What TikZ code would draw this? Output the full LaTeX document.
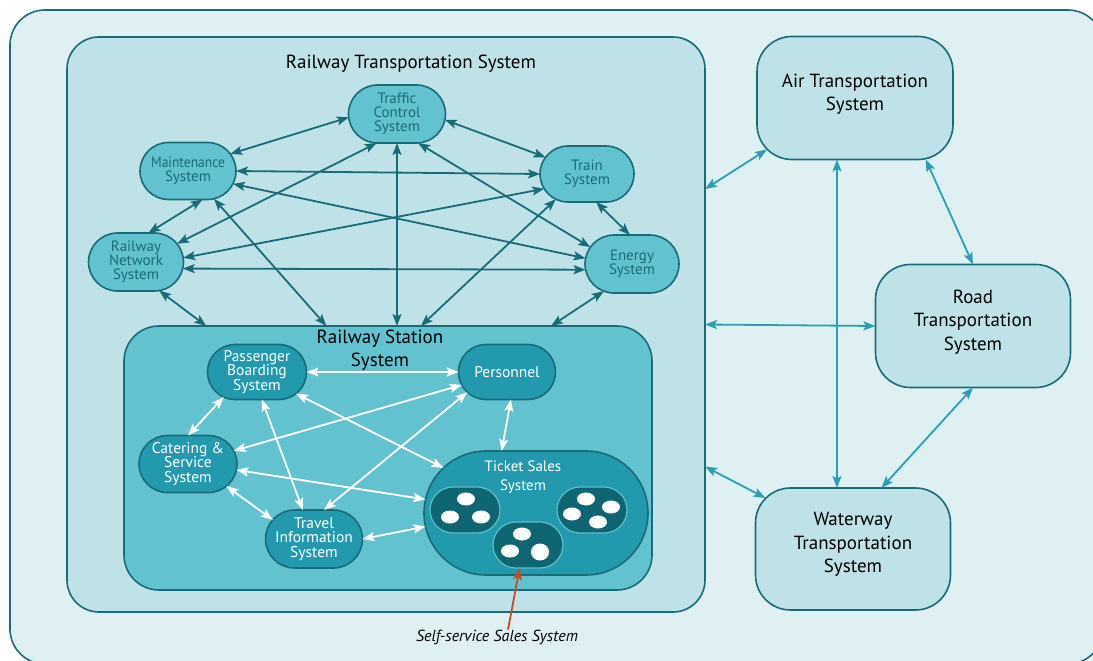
\documentclass[tikz,border=0pt]{standalone}
\usepackage{fontspec}
\setmainfont{PT Sans}
\usepackage{tikz}
\usetikzlibrary{arrows.meta, positioning, shapes.misc}

\definecolor{outerbg}{HTML}{DFF0F3}
\definecolor{boxbg}{HTML}{BFE2E8}
\definecolor{edgedark}{HTML}{1A6B78}
\definecolor{subfill}{HTML}{63C2D0}
\definecolor{stnfill}{HTML}{2399AE}
\definecolor{pillfill}{HTML}{0F6672}
\definecolor{pillrim}{HTML}{5CBFCD}
\definecolor{linkteal}{HTML}{2A9FB3}
\definecolor{pointred}{HTML}{C94B22}

\begin{document}
\begin{tikzpicture}[x=1pt,y=-1pt,>={Stealth[length=12pt,width=9pt,inset=2.5pt]}]
  \tikzstyle{every node}=[inner sep=0pt,outer sep=0pt,align=center]
  \tikzstyle{bigbox}=[draw=edgedark,line width=1.6pt,fill=boxbg,rounded corners=35pt]
  \tikzstyle{heading}=[font=\fontsize{19}{23.5}\selectfont]
  \tikzstyle{railsub}=[rounded rectangle,draw=edgedark,line width=1.6pt,fill=subfill,
    text=edgedark,font=\fontsize{15}{14}\selectfont]
  \tikzstyle{stnsub}=[rounded rectangle,draw=edgedark,line width=1.6pt,fill=stnfill,
    text=white,font=\fontsize{15.5}{14.5}\selectfont]
  \tikzstyle{pill}=[rounded rectangle,draw=pillrim,line width=1.2pt,fill=pillfill,
    minimum width=70pt,minimum height=46pt]
  \tikzstyle{raillink}=[<->,color=edgedark,line width=1.8pt]
  \tikzstyle{stnlink}=[<->,color=white,line width=1.8pt]
  \tikzstyle{extlink}=[<->,color=linkteal,line width=1.8pt]

  \useasboundingbox (0,0) rectangle (1093,661);
  \clip (0,0) rectangle (1093,661);

  % whole transportation system
  \draw[draw=edgedark,line width=1.6pt,fill=outerbg,rounded corners=35pt]
    (10,10) rectangle (1103,664);

  % railway
  \node[bigbox,rounded corners=32pt,minimum width=638pt,minimum height=575pt] (rail) at (386,324.5) {};
  \node[heading] (railtitle) at (411,64) {Railway Transportation System};

  \node[railsub,minimum width=97pt,minimum height=58pt] (traffic) at (397,114) {Traffic\\Control\\System};
  \node[railsub,minimum width=96pt,minimum height=57pt] (maint)   at (188,171) {\scalebox{0.9}[1]{Maintenance}\\System};
  \node[railsub,minimum width=94pt,minimum height=56pt] (train)   at (587,174) {Train\\System};
  \node[railsub,minimum width=95pt,minimum height=58pt] (railnet) at (136,262) {Railway\\Network\\System};
  \node[railsub,minimum width=94pt,minimum height=58pt] (energy)  at (632,264) {Energy\\System};

  % station
  \node[draw=edgedark,line width=1.6pt,fill=subfill,rounded corners=35pt,
    minimum width=528pt,minimum height=264pt] (station) at (388,458) {};
  \node[heading] (stntitle) at (380,350) {Railway Station\\System};

  \node[stnsub,minimum width=99pt,minimum height=55pt] (pass)   at (257,372) {Passenger\\Boarding\\System};
  \node[stnsub,minimum width=97pt,minimum height=55pt] (pers)   at (507,372) {Personnel};
  \node[stnsub,minimum width=98pt,minimum height=57pt] (cat)    at (188,464) {Catering \&\\Service\\System};
  \node[stnsub,minimum width=96pt,minimum height=58pt] (travel) at (314,539) {Travel\\Information\\System};
  \node[stnsub,minimum width=224pt,minimum height=124pt] (ticket) at (536,513) {};
  \node[text=white,font=\fontsize{15}{19}\selectfont] (tickettitle) at (523,477) {Ticket Sales\\System};

  \node[pill] (pillL) at (465,510) {};
  \node[pill] (pillC) at (528,545) {};
  \node[pill] (pillR) at (592,510) {};
  \foreach \p in {(466,499),(450,517),(481,517),(522,534),(510,551),
                  (586,499),(611,507),(572,514),(598,522)}
    \fill[white] \p ellipse (9 and 6.5);
  \fill[white] (540,552) ellipse (9 and 8.5);

  \node[font=\itshape\fontsize{16}{18}\selectfont] (selflbl) at (497,637) {Self-service Sales System};

  % other transportation systems
  \node[bigbox,minimum width=196pt,minimum height=123pt,
    label={[heading,yshift=4pt]center:{Air Transportation\\System}}] (air) at (855,98) {};
  \node[bigbox,minimum width=195pt,minimum height=123pt,
    label={[heading,yshift=4pt]center:{Road\\Transportation\\System}}] (road) at (973,326) {};
  \node[bigbox,minimum width=195pt,minimum height=122pt,
    label={[heading,yshift=4.5pt]center:{Waterway\\Transportation\\System}}] (water) at (853,549) {};

  \path[raillink]
  (traffic.184) edge (maint.22)
  (traffic.-7)  edge (train.158)
  (maint.east)  edge (train.west)
  (maint.-16)   edge (energy.173)
  (maint.-63)   edge (railnet.67)
  (maint.-47)   edge (station.115)
  (traffic.235) edge (railnet.24)
  (traffic.south) edge (traffic.south |- station.north)
  (traffic.-54) edge (energy.158)
  (train.199)   edge (railnet.5)
  (train.-72)   edge (energy.94)
  (train.219)   edge (station.76)
  (railnet.-8)  edge (energy.187)
  (railnet.-51) edge (station.144)
  (energy.224)  edge (station.39)
  ;

  \path[stnlink]
  (pass.east)  edge (pers.west)
  (pass.217)   edge (cat.north)
  (pass.-80)   edge (travel.111)
  (pass.-29)   edge (ticket.154)
  (pers.196)   edge (cat.16)
  (pers.207)   edge (travel.71)
  (pers.-82)   edge (ticket.119)
  (cat.-7)     edge (ticket.173)
  (cat.-30)    edge (travel.155)
  (travel.east) edge (ticket.187)
  ;

  \path[extlink]
  (rail.23.6)  edge ([shift={(10pt,10pt)}]air.south west)
  (rail.east)  edge (road.west)
  (rail.-24)   edge ([shift={(10pt,-10pt)}]water.north west)
  ([xshift=-18pt]air.south) edge ([xshift=-16pt]water.north)
  (air.-41)    edge (road.north)
  (road.south) edge (water.65)
  ;

  \draw[->,color=pointred,line width=1.8pt] ([xshift=11pt]selflbl.north) -- (pillC.-110);
\end{tikzpicture}
\end{document}
